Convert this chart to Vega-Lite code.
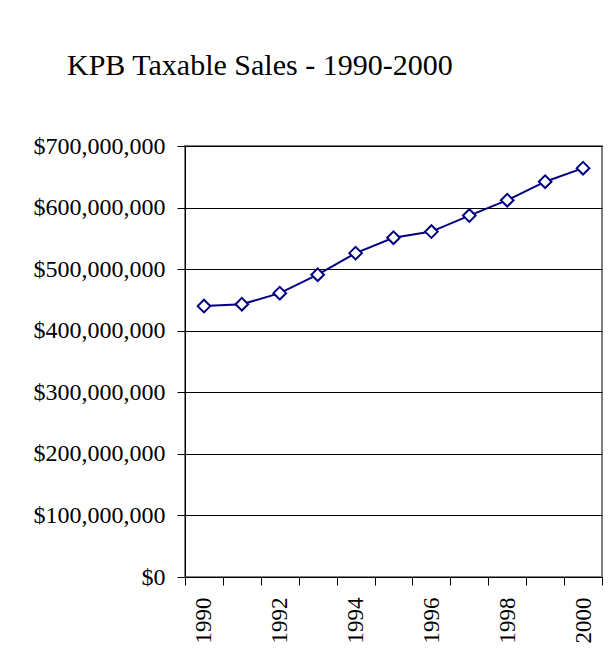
{
  "$schema": "https://vega.github.io/schema/vega-lite/v6.json",
  "width": 417,
  "height": 431,
  "autosize": "none",
  "padding": {"left": 185, "top": 146, "right": 11, "bottom": 90},
  "background": "white",
  "title": {
    "text": "KPB Taxable Sales - 1990-2000",
    "font": "Liberation Serif",
    "fontSize": 30,
    "fontWeight": "normal",
    "color": "black",
    "anchor": "start",
    "frame": "group",
    "dx": -118,
    "offset": 53
  },
  "config": {
    "view": {"stroke": "#808080", "strokeWidth": 2},
    "axis": {
      "labelFont": "Liberation Serif",
      "labelColor": "black",
      "domainColor": "black",
      "tickColor": "black",
      "gridColor": "black",
      "title": null
    }
  },
  "data": {
    "values": [
      {"year": 1990, "sales": 440000000},
      {"year": 1991, "sales": 443000000},
      {"year": 1992, "sales": 461000000},
      {"year": 1993, "sales": 491000000},
      {"year": 1994, "sales": 526000000},
      {"year": 1995, "sales": 551000000},
      {"year": 1996, "sales": 561000000},
      {"year": 1997, "sales": 587000000},
      {"year": 1998, "sales": 612000000},
      {"year": 1999, "sales": 642000000},
      {"year": 2000, "sales": 664000000}
    ]
  },
  "encoding": {
    "y": {
      "field": "sales",
      "type": "quantitative",
      "scale": {"domain": [0, 700000000], "nice": false},
      "axis": {
        "values": [0, 100000000, 200000000, 300000000, 400000000, 500000000, 600000000, 700000000],
        "format": "$,.0f",
        "labelFontSize": 24,
        "tickSize": 8,
        "labelPadding": 12,
        "grid": true,
        "gridWidth": 1
      }
    }
  },
  "layer": [
    {
      "mark": {"type": "line", "color": "#000080", "strokeWidth": 2},
      "encoding": {
        "x": {
          "field": "year",
          "type": "quantitative",
          "scale": {"domain": [1989.5, 2000.5], "nice": false, "zero": false},
          "axis": {
            "orient": "bottom",
            "values": [1989.5, 1990.5, 1991.5, 1992.5, 1993.5, 1994.5, 1995.5, 1996.5, 1997.5, 1998.5, 1999.5, 2000.5],
            "labels": false,
            "ticks": true,
            "tickSize": 8,
            "grid": false,
            "domain": true
          }
        }
      }
    },
    {
      "mark": {"type": "point", "shape": "diamond", "filled": true, "fill": "white", "stroke": "#000080", "strokeWidth": 2, "size": 160, "opacity": 1},
      "encoding": {
        "x": {
          "field": "year",
          "type": "quantitative",
          "axis": {
            "orient": "bottom",
            "values": [1990, 1992, 1994, 1996, 1998, 2000],
            "format": "d",
            "labelAngle": -90,
            "labelFontSize": 23,
            "labels": true,
            "ticks": false,
            "labelPadding": 20,
            "domain": false,
            "grid": false
          }
        }
      }
    }
  ],
  "resolve": {"axis": {"x": "independent"}}
}
